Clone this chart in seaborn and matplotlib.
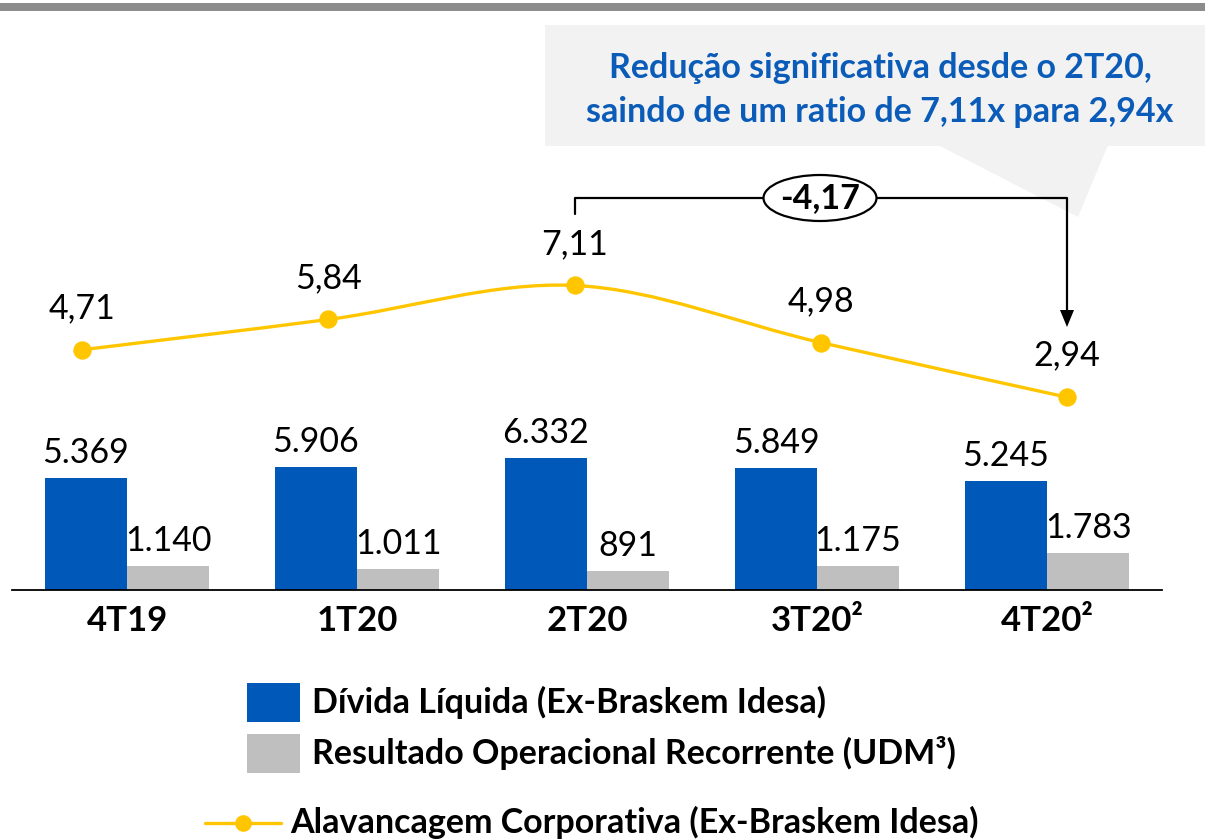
import numpy as np
import pandas as pd
import matplotlib
matplotlib.use("Agg")
import matplotlib.pyplot as plt
import seaborn as sns
from matplotlib.patches import Rectangle, Ellipse, Polygon, PathPatch
from matplotlib.path import Path
from matplotlib.lines import Line2D

# ---------------- data ----------------
categories = ["4T19", "1T20", "2T20", "3T20²", "4T20²"]
divida = [5369, 5906, 6332, 5849, 5245]
resultado = [1140, 1011, 891, 1175, 1783]
alavancagem = [4.71, 5.84, 7.11, 4.98, 2.94]
series_names = ["Dívida Líquida (Ex-Braskem Idesa)",
                "Resultado Operacional Recorrente (UDM³)"]
line_name = "Alavancagem Corporativa (Ex-Braskem Idesa)"
callout_text = "Redução significativa desde o 2T20,\nsaindo de um ratio de 7,11x para 2,94x"
delta_label = "-4,17"

# ---------------- style ----------------
BLUE = "#0058B8"
GRAY = "#BFBFBF"
GOLD = "#FFC600"
TXTBLUE = "#0B5CB8"
W, H = 1205, 839
FS = 24.5

sns.set_theme(style="white")
plt.rcParams['font.family'] = ['Lato', 'DejaVu Sans']

fig = plt.figure(figsize=(W / 100, H / 100), dpi=100)
fig.patch.set_facecolor("white")


def fx(x):
    return x / W


def fy(y):
    return 1 - y / H


def fmt_thousands(v):
    return f"{v:,}".replace(",", ".")


def fmt_dec(v):
    return f"{v:.2f}".replace(".", ",")


# top grey rule
fig.add_artist(Rectangle((0, fy(11)), 1, fy(3) - fy(11), transform=fig.transFigure,
                         facecolor="#8C8C8C", edgecolor="none"))

# callout box with pointer
fig.add_artist(Rectangle((fx(545), fy(146)), fx(1205) - fx(545), fy(25) - fy(146),
                         transform=fig.transFigure, facecolor="#F2F2F2", edgecolor="none"))
fig.add_artist(Polygon([(fx(938), fy(145)), (fx(1108), fy(145)), (fx(1078), fy(217))],
                       closed=True, transform=fig.transFigure, facecolor="#F2F2F2",
                       edgecolor="none"))
fig.text(fx(880), fy(90), callout_text, ha="center", va="center", color=TXTBLUE,
         fontsize=24.5, fontweight="bold", linespacing=1.45)

# ---------------- bars ----------------
ax = fig.add_axes([fx(12), fy(590), fx(1162) - fx(12), fy(0) - fy(590)])
ax.patch.set_alpha(0)
df = pd.DataFrame({
    "cat": categories * 2,
    "val": divida + resultado,
    "serie": [series_names[0]] * len(categories) + [series_names[1]] * len(categories),
})
sns.barplot(data=df, x="cat", y="val", hue="serie", palette=[BLUE, GRAY],
            width=0.714, saturation=1, linewidth=0, legend=False, ax=ax, errorbar=None)
ax.set_xlim(-0.5, 4.5)
ax.set_ylim(0, 590 / 0.02085)
for container, vals in zip(ax.containers, [divida, resultado]):
    for bar, v in zip(container, vals):
        ax.annotate(fmt_thousands(v), (bar.get_x() + bar.get_width() / 2, bar.get_height()),
                    xytext=(0, 18), textcoords="offset points", ha="center", va="center",
                    fontsize=FS, color="black")
ax.set_xlabel("")
ax.set_ylabel("")
ax.set_yticks([])
ax.set_xticks(range(len(categories)))
ax.set_xticklabels(categories, fontsize=25, fontweight="bold", color="black")
ax.tick_params(axis="x", length=0, pad=11)
for s in ["top", "left", "right"]:
    ax.spines[s].set_visible(False)
ax.spines["bottom"].set_color("black")
ax.spines["bottom"].set_linewidth(1.3)

# ---------------- line ----------------
ax2 = fig.add_axes([0, 0, 1, 1])
ax2.patch.set_alpha(0)
ax2.set_axis_off()
xs = np.arange(len(alavancagem), dtype=float)
ys = np.array(alavancagem)

# smooth (Catmull-Rom style) path through the data points
pts = np.column_stack([xs, ys])
ext = np.vstack([pts[0], pts, pts[-1]])
verts = [pts[0]]
codes = [Path.MOVETO]
for i in range(len(pts) - 1):
    p0, p1, p2, p3 = ext[i], ext[i + 1], ext[i + 2], ext[i + 3]
    c1 = p1 + (p2 - p0) / 6
    c2 = p2 - (p3 - p1) / 6
    verts += [c1, c2, p2]
    codes += [Path.CURVE4] * 3
ax2.add_patch(PathPatch(Path(verts, codes), facecolor="none", edgecolor=GOLD, lw=2.4,
                        zorder=2))
sns.scatterplot(x=xs, y=ys, ax=ax2, color=GOLD, s=175, edgecolor=GOLD, linewidth=0,
                zorder=3, legend=False)
for x, y in zip(xs, ys):
    ax2.annotate(fmt_dec(y), (x, y), xytext=(0, 30), textcoords="offset points",
                 ha="center", va="center", fontsize=FS, color="black")
ax2.set_xlim(-82 / 246.25, (W - 82) / 246.25)
ax2.set_ylim(-(H - 476) / 26.8, 476 / 26.8)

# bracket with arrow
i0 = int(np.argmax(ys))
i1 = len(ys) - 1
x0p = 82 + 246.25 * i0
x1p = 82 + 246.25 * i1
bracket = Line2D([fx(x0p), fx(x0p), fx(x1p), fx(x1p)],
                 [fy(214), fy(198), fy(198), fy(312)], transform=fig.transFigure,
                 color="black", lw=1.6, zorder=2)
fig.add_artist(bracket)
fig.add_artist(Polygon([(fx(x1p - 7), fy(310)), (fx(x1p + 7), fy(310)), (fx(x1p), fy(327))],
                       closed=True, transform=fig.transFigure, facecolor="black",
                       edgecolor="none", zorder=2))
fig.add_artist(Ellipse((fx(820), fy(198)), fx(113), 46 / H, transform=fig.transFigure,
                       facecolor="white", edgecolor="black", lw=1.6, zorder=5))
fig.text(fx(820), fy(198), delta_label, ha="center", va="center", fontsize=FS,
         fontweight="bold", color="black", zorder=6)

# ---------------- legend ----------------
fig.add_artist(Rectangle((fx(247), fy(722)), fx(53), 39 / H, transform=fig.transFigure,
                         facecolor=BLUE, edgecolor="none"))
fig.add_artist(Rectangle((fx(247), fy(773)), fx(53), 39 / H, transform=fig.transFigure,
                         facecolor=GRAY, edgecolor="none"))
fig.text(fx(312), fy(702), series_names[0], ha="left", va="center", fontsize=FS,
         fontweight="bold", color="black")
fig.text(fx(312), fy(753), series_names[1], ha="left", va="center", fontsize=FS,
         fontweight="bold", color="black")
fig.add_artist(Line2D([fx(205), fx(281)], [fy(823), fy(823)], transform=fig.transFigure,
                      color=GOLD, lw=2.4))
fig.add_artist(Line2D([fx(243)], [fy(823)], transform=fig.transFigure, color=GOLD,
                      marker="o", markersize=12, markeredgewidth=0))
fig.text(fx(290), fy(822), line_name, ha="left", va="center", fontsize=FS,
         fontweight="bold", color="black")

fig.savefig("out.png", dpi=100, facecolor="white")
